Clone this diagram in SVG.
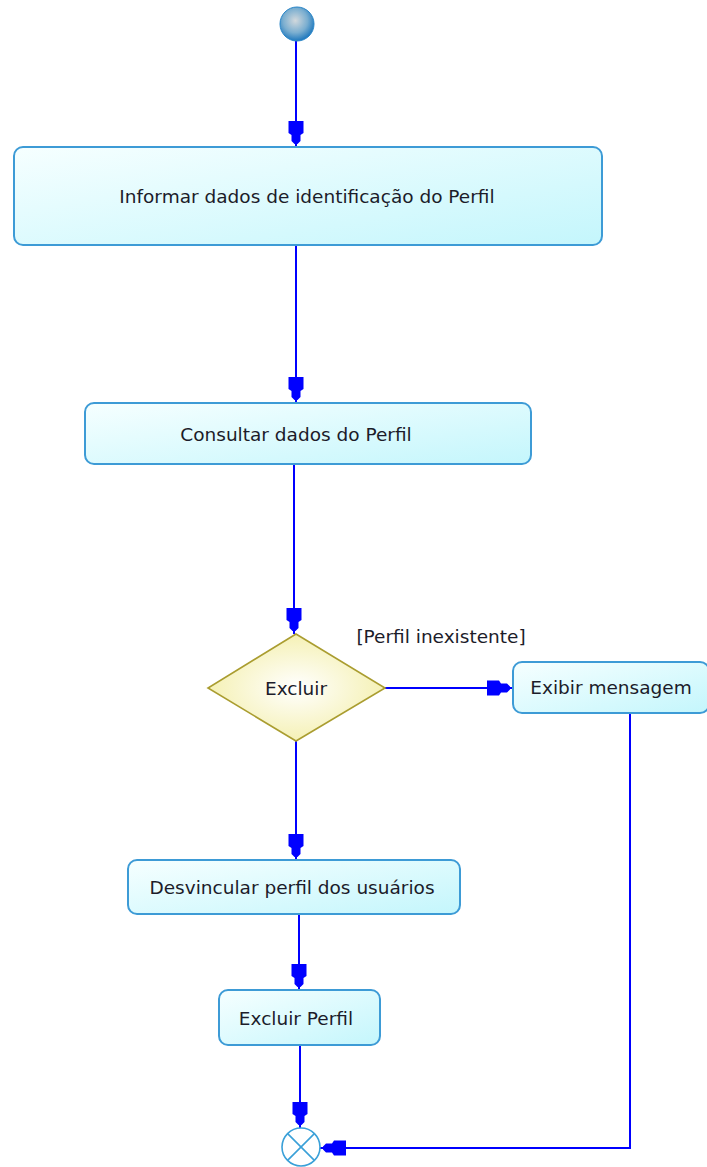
<svg xmlns="http://www.w3.org/2000/svg" width="707" height="1167" viewBox="0 0 707 1167">
<style>
.box{fill:url(#boxg);stroke:#3d9bd6;stroke-width:2}
.lbl{font-family:"DejaVu Sans",Verdana,sans-serif;font-size:18.5px;fill:#1c1c2a;text-anchor:middle;dominant-baseline:central}
.conn{fill:none;stroke:#0000ff;stroke-width:2;marker-end:url(#arr)}
</style>
<defs>
<linearGradient id="boxg" x1="0" y1="0" x2="1" y2="1">
<stop offset="0" stop-color="#f6ffff"/>
<stop offset="1" stop-color="#c4f6fc"/>
</linearGradient>
<radialGradient id="dg" cx="0.5" cy="0.5" r="0.6">
<stop offset="0" stop-color="#ffffff"/>
<stop offset="1" stop-color="#f3eea6"/>
</radialGradient>
<radialGradient id="sg" cx="0.45" cy="0.4" r="0.6">
<stop offset="0" stop-color="#d2d8dc"/>
<stop offset="0.6" stop-color="#7aaed0"/>
<stop offset="1" stop-color="#1f78bd"/>
</radialGradient>
<marker id="arr" markerUnits="userSpaceOnUse" viewBox="-27 -8 28 16" refX="0" refY="0" markerWidth="28" markerHeight="16" orient="auto">
<path d="M-26,-7.5 L-14,-7.5 L-12,-4.5 L-6,-4.5 L-3,-1.5 L-3,1.5 L-6,4.5 L-12,4.5 L-14,7.5 L-26,7.5 Z" fill="#0000ff"/>
</marker>
</defs>

<g id="connectors">
<line class="conn" x1="296" y1="41" x2="296" y2="147"/>
<line class="conn" x1="296" y1="245" x2="296" y2="403"/>
<line class="conn" x1="294" y1="464" x2="294" y2="634"/>
<line class="conn" x1="296" y1="741" x2="296" y2="860"/>
<line class="conn" x1="385" y1="688" x2="513" y2="688"/>
<line class="conn" x1="299" y1="914" x2="299" y2="990"/>
<line class="conn" x1="300" y1="1045" x2="300" y2="1128"/>
<polyline class="conn" points="630,713 630,1148 320,1148"/>
</g>

<g id="start">
<circle cx="297" cy="24" r="17" fill="url(#sg)" stroke="#2a86c8" stroke-width="1"/>
</g>

<g id="informar">
<rect class="box" x="14" y="147" width="588" height="98" rx="9"/>
<text class="lbl" x="307" y="196">Informar dados de identificação do Perfil</text>
</g>

<g id="consultar">
<rect class="box" x="85" y="403" width="446" height="61" rx="9"/>
<text class="lbl" x="296" y="434">Consultar dados do Perfil</text>
</g>

<g id="decisao">
<polygon points="296,634 385,688 296,741 208,688" fill="url(#dg)" stroke="#aa9d30" stroke-width="1.6"/>
<text class="lbl" x="296" y="688">Excluir</text>
</g>

<g id="guarda">
<text class="lbl" x="441" y="636">[Perfil inexistente]</text>
</g>

<g id="exibir">
<rect class="box" x="513" y="662" width="196" height="51" rx="9"/>
<text class="lbl" x="611" y="687">Exibir mensagem</text>
</g>

<g id="desvincular">
<rect class="box" x="128" y="860" width="332" height="54" rx="9"/>
<text class="lbl" x="292" y="887">Desvincular perfil dos usuários</text>
</g>

<g id="excluirperfil">
<rect class="box" x="219" y="990" width="161" height="55" rx="9"/>
<text class="lbl" x="296" y="1018">Excluir Perfil</text>
</g>

<g id="end">
<circle cx="301" cy="1147" r="19" fill="#ffffff" stroke="#3aa0d8" stroke-width="1.6"/>
<line x1="287.6" y1="1133.6" x2="314.4" y2="1160.4" stroke="#3aa0d8" stroke-width="1.6"/>
<line x1="314.4" y1="1133.6" x2="287.6" y2="1160.4" stroke="#3aa0d8" stroke-width="1.6"/>
</g>
</svg>
